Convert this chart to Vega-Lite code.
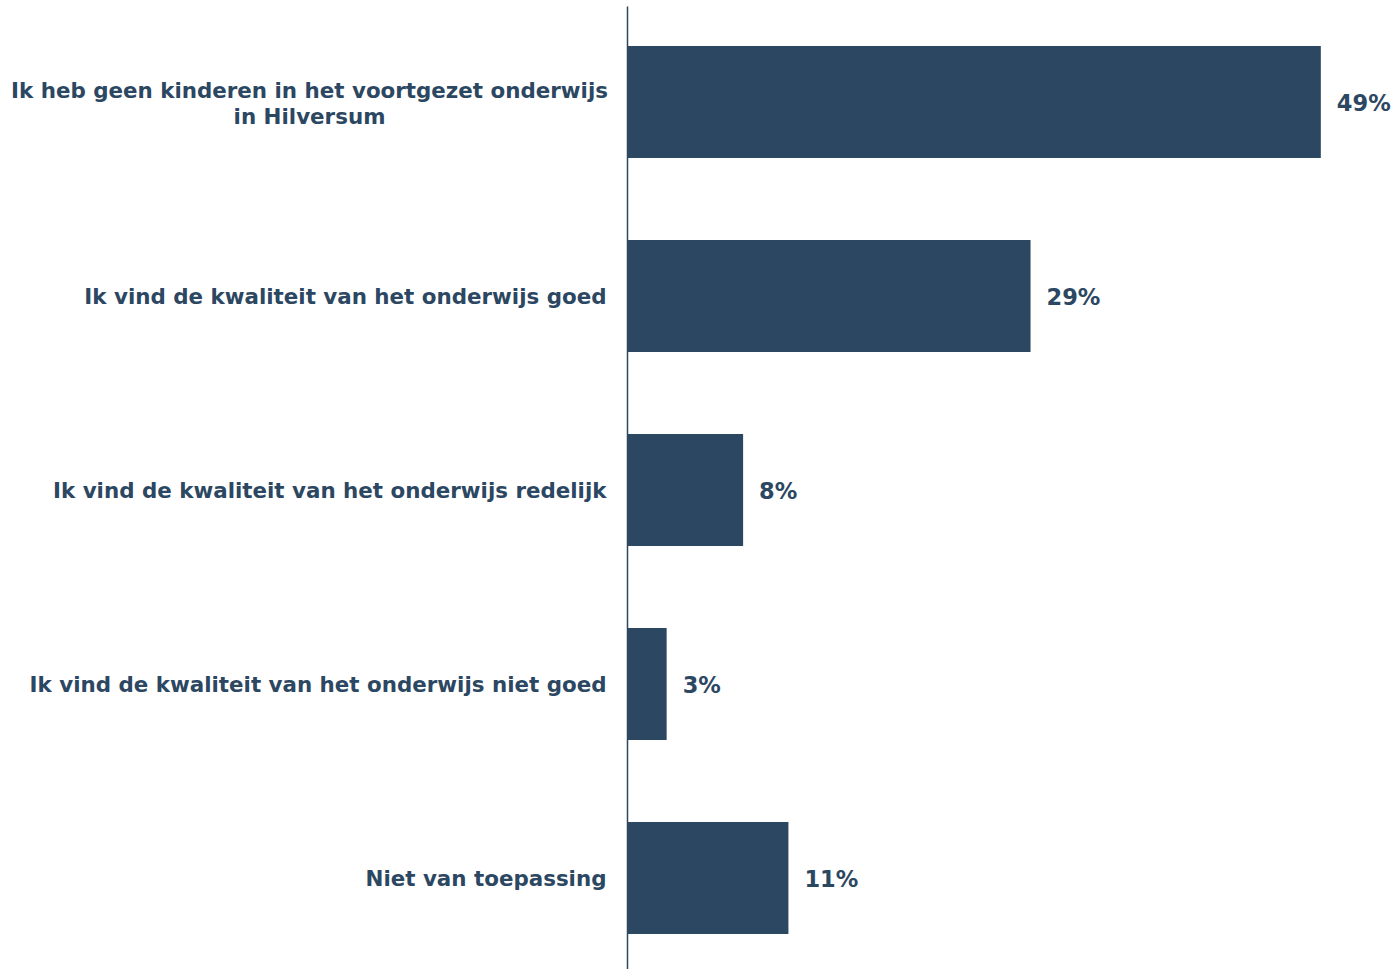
{
  "$schema": "https://vega.github.io/schema/vega-lite/v6.json",
  "width": 770,
  "height": 968,
  "autosize": {"type": "none"},
  "padding": {"left": 627, "top": 6, "right": 0, "bottom": 0},
  "background": "white",
  "config": {"view": {"stroke": null}},
  "data": {
    "values": [
      {"cat": "Ik heb geen kinderen in het voortgezet onderwijs|in Hilversum", "value": 49.0, "label": "49%"},
      {"cat": "Ik vind de kwaliteit van het onderwijs goed", "value": 28.5, "label": "29%"},
      {"cat": "Ik vind de kwaliteit van het onderwijs redelijk", "value": 8.2, "label": "8%"},
      {"cat": "Ik vind de kwaliteit van het onderwijs niet goed", "value": 2.8, "label": "3%"},
      {"cat": "Niet van toepassing", "value": 11.4, "label": "11%"}
    ]
  },
  "encoding": {
    "y": {
      "field": "cat",
      "type": "nominal",
      "sort": null,
      "title": null,
      "scale": {"paddingInner": 0.423, "paddingOuter": 0.206},
      "axis": {
        "ticks": false,
        "domainColor": "#2c4762",
        "domainWidth": 1.5,
        "labelFont": "DejaVu Sans",
        "labelFontWeight": "bold",
        "labelFontSize": 21.4,
        "labelColor": "#2c4762",
        "labelLimit": 700,
        "labelLineHeight": 26,
        "labelExpr": "split(datum.label, '|')",
        "labelAlign": {"condition": {"test": "indexof(datum.value, '|') >= 0", "value": "center"}, "value": "right"},
        "labelPadding": {"condition": {"test": "indexof(datum.value, '|') >= 0", "value": 318}, "value": 21},
        "labelOffset": {"condition": {"test": "indexof(datum.value, '|') >= 0", "value": -10}, "value": 2}
      }
    },
    "x": {
      "field": "value",
      "type": "quantitative",
      "scale": {"domain": [0, 54.38], "nice": false, "zero": true},
      "axis": null
    }
  },
  "layer": [
    {"mark": {"type": "bar", "color": "#2c4762", "cornerRadius": 0}},
    {
      "mark": {"type": "text", "align": "left", "baseline": "middle", "dx": 16, "dy": 2, "font": "DejaVu Sans", "fontWeight": "bold", "fontSize": 22.5, "color": "#2c4762"},
      "encoding": {"text": {"field": "label"}}
    }
  ]
}
